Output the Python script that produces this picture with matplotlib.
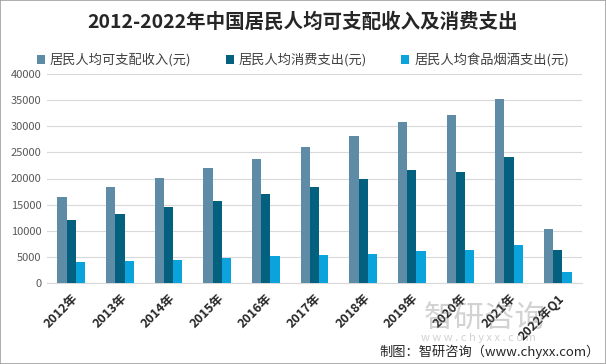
import matplotlib
matplotlib.use("Agg")
import matplotlib.pyplot as plt
import numpy as np
from matplotlib.patches import Rectangle

plt.rcParams['font.family'] = ['Noto Sans CJK SC', 'DejaVu Sans']

categories = ["2012年", "2013年", "2014年", "2015年", "2016年", "2017年",
              "2018年", "2019年", "2020年", "2021年", "2022年Q1"]
income = [16510, 18311, 20167, 21966, 23821, 25974, 28228, 30733, 32189, 35128, 10345]
consumption = [12054, 13220, 14491, 15712, 17111, 18322, 19853, 21559, 21210, 24100, 6393]
food = [4000, 4127, 4494, 4814, 5151, 5374, 5631, 6084, 6397, 7178, 2077]
series_names = ["居民人均可支配收入(元)", "居民人均消费支出(元)", "居民人均食品烟酒支出(元)"]
colors = ["#5E8CA6", "#03607F", "#0AA3DC"]
yticks = [0, 5000, 10000, 15000, 20000, 25000, 30000, 35000, 40000]

W, H = 606, 364
fig = plt.figure(figsize=(W / 100, H / 100), dpi=100)
fig.patches.append(Rectangle((0, 0), 1, 1, transform=fig.transFigure,
                             fill=False, edgecolor="#A0A0A0", linewidth=1.2))

ax = fig.add_axes([47 / W, 1 - 283 / H, (582 - 47) / W, (283 - 74) / H])
x = np.arange(len(categories))
bw = 0.19
for i, (vals, c, n) in enumerate(zip([income, consumption, food], colors, series_names)):
    ax.bar(x + (i - 1) * bw, vals, width=bw, color=c, label=n, zorder=3)

ax.set_ylim(0, 40000)
ax.set_xlim(-0.5, len(categories) - 0.5)
ax.set_yticks(yticks)
ax.set_yticklabels([str(v) for v in yticks], fontsize=8, color="#595959")
ax.yaxis.grid(True, color="#D9D9D9", linewidth=0.8, zorder=0)
ax.set_xticks(x)
ax.set_xticklabels(categories, rotation=45, ha="right", rotation_mode="anchor",
                   fontsize=9, fontweight="bold", color="#262626")
ax.tick_params(axis="both", length=0, pad=4)
ax.tick_params(axis="x", pad=6)
for s in ["top", "right", "left"]:
    ax.spines[s].set_visible(False)
ax.spines["bottom"].set_color("#D9D9D9")

fig.text(0.5, 1 - 22 / H, "2012-2022年中国居民人均可支配收入及消费支出",
         ha="center", va="center", fontsize=14, fontweight="bold", color="#262626")

fig.legend(loc="center", bbox_to_anchor=(0.5, 1 - 60 / H), ncol=3, frameon=False,
           fontsize=9.5, handlelength=0.6, handleheight=0.6, columnspacing=2.6,
           handletextpad=0.4, labelcolor="#404040")

# watermark
fig.text(0.80, 1 - 318 / H, "智研咨询", ha="center", va="center", fontsize=22,
         color="#7F7F7F", alpha=0.35)
fig.text(0.79, 1 - 338 / H, "w w w . c h y x x . c o m", ha="center", va="center",
         fontsize=8, color="#7F7F7F", alpha=0.35)

fig.text(1 - 6 / W, 1 - 352 / H, "制图：智研咨询（www.chyxx.com）", ha="right",
         va="center", fontsize=9.5, color="#262626")

fig.savefig("out.png", dpi=100)
